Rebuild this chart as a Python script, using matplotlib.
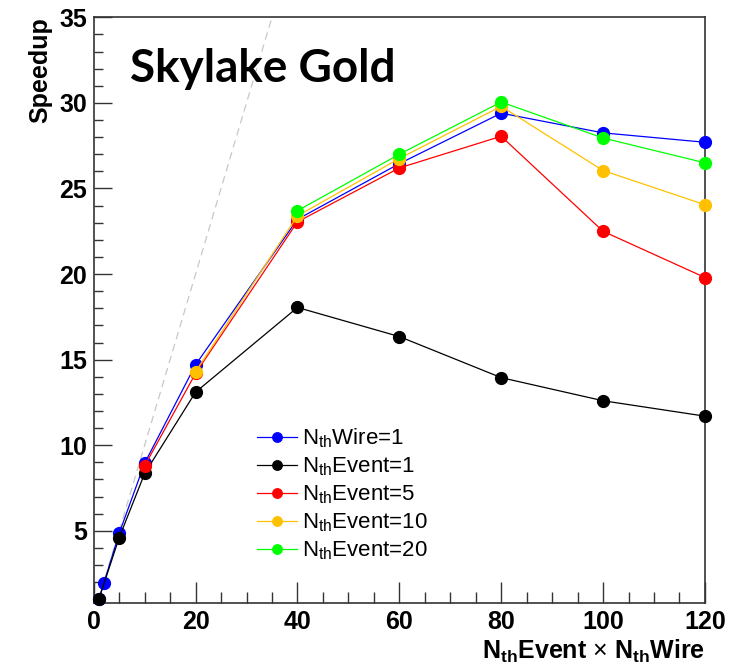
import numpy as np
import matplotlib
matplotlib.use('Agg')
import matplotlib.pyplot as plt
from matplotlib.ticker import MultipleLocator

plt.rcParams['font.family'] = ['Liberation Sans', 'DejaVu Sans']
plt.rcParams['mathtext.fontset'] = 'custom'
plt.rcParams['mathtext.rm'] = 'Liberation Sans'
plt.rcParams['mathtext.bf'] = 'Liberation Sans:bold'

# ─── Data ─────────────────────────────────────────────────────────────────────
x_wire1   = [1, 2, 5, 10, 20, 40, 60, 80, 100, 120]
y_wire1   = [1.0, 1.95, 4.85, 8.95, 14.7, 23.2, 26.45, 29.4, 28.25, 27.7]

x_event1  = [1, 5, 10, 20, 40, 60, 80, 100, 120]
y_event1  = [1.0, 4.6, 8.35, 13.1, 18.05, 16.35, 13.95, 12.6, 11.7]

x_event5  = [10, 20, 40, 60, 80, 100, 120]
y_event5  = [8.8, 14.2, 23.05, 26.2, 28.05, 22.5, 19.8]

x_event10 = [20, 40, 60, 80, 100, 120]
y_event10 = [14.3, 23.4, 26.75, 29.8, 26.05, 24.05]

x_event20 = [40, 60, 80, 100, 120]
y_event20 = [23.7, 27.0, 30.05, 27.95, 26.5]

labels = [r'N$_{\mathrm{th}}$Wire=1', r'N$_{\mathrm{th}}$Event=1',
          r'N$_{\mathrm{th}}$Event=5', r'N$_{\mathrm{th}}$Event=10',
          r'N$_{\mathrm{th}}$Event=20']
colors = ['#0000ff', '#000000', '#ff0000', '#ffc000', '#00ff00']

ideal = np.array([0.8, 40.0])   # y = x reference
X_MIN, X_MAX = 0, 120
Y_MIN, Y_MAX = 0.8, 35

# ─── Plot ─────────────────────────────────────────────────────────────────────
fig = plt.figure(figsize=(7.32, 6.66), dpi=100)
ax = fig.add_axes([0.128, 0.095, 0.835, 0.879])

ax.plot(ideal, ideal, color='#c8c8c8', lw=0.9, ls=(0, (6, 4)), zorder=1)

series = [(x_wire1, y_wire1), (x_event1, y_event1), (x_event5, y_event5),
          (x_event10, y_event10), (x_event20, y_event20)]
for (xs, ys), lab, c in zip(series, labels, colors):
    ax.plot(xs, ys, '-o', color=c, lw=0.9, ms=8.5, label=lab, zorder=3,
            clip_on=False)

ax.set_xlim(X_MIN, X_MAX)
ax.set_ylim(Y_MIN, Y_MAX)

ax.xaxis.set_major_locator(MultipleLocator(20))
ax.xaxis.set_minor_locator(MultipleLocator(5))
ax.yaxis.set_major_locator(MultipleLocator(5))
ax.yaxis.set_minor_locator(MultipleLocator(1))
ax.set_yticks([5, 10, 15, 20, 25, 30, 35])

ax.tick_params(axis='both', which='both', direction='in', top=False, right=False,
               labelsize=18, width=1, color='#333333')
ax.tick_params(axis='x', which='major', length=15, pad=5)
ax.tick_params(axis='x', which='minor', length=8)
ax.tick_params(axis='y', which='major', length=13, pad=5)
ax.tick_params(axis='y', which='minor', length=6.5)
for lab in ax.get_xticklabels() + ax.get_yticklabels():
    lab.set_fontweight('bold')
for sp in ax.spines.values():
    sp.set_color('#333333')
    sp.set_linewidth(1.2)

ax.set_ylabel('Speedup', fontsize=18, fontweight='bold')
ax.yaxis.set_label_coords(-0.068, 1.0)
ax.yaxis.label.set_horizontalalignment('right')

ax.set_xlabel(r'N$_{\mathbf{th}}$Event $\times$ N$_{\mathbf{th}}$Wire',
              fontsize=18, fontweight='bold')
ax.xaxis.set_label_coords(1.0, -0.06)
ax.xaxis.label.set_horizontalalignment('right')

ax.text(0.06, 0.912, 'Skylake Gold', transform=ax.transAxes, fontsize=33,
        fontweight='bold', family=['Lato', 'DejaVu Sans'], va='center')

ax.legend(loc='upper left', bbox_to_anchor=(0.253, 0.316), frameon=False,
          fontsize=16, handlelength=1.8, handletextpad=0.2, markerscale=0.8,
          labelspacing=0.24, borderaxespad=0)

fig.savefig('out.png', dpi=100)
